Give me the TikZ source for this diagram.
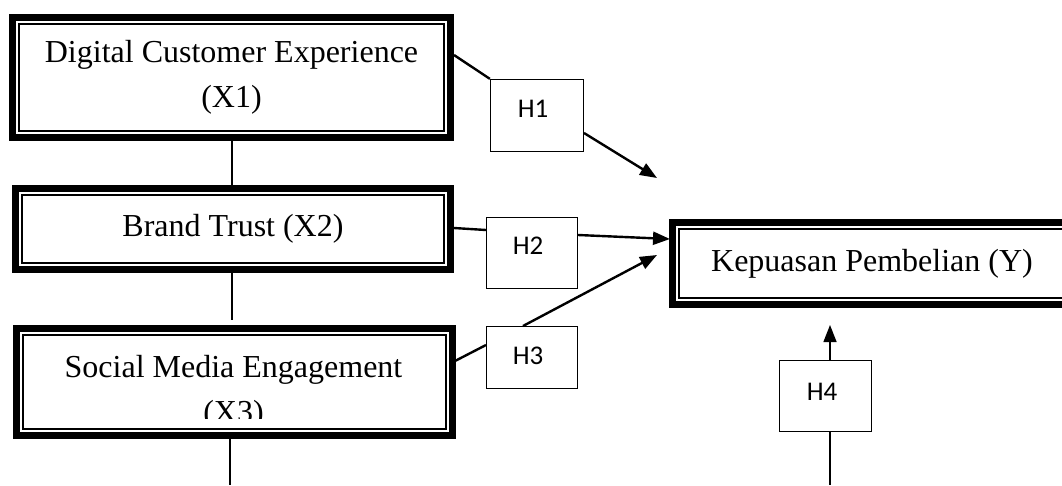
\documentclass[tikz,border=0pt]{standalone}
\usepackage{fontspec}
\setmainfont{Liberation Serif}
\newfontfamily\hfont{Carlito}
\usetikzlibrary{arrows.meta}
\begin{document}
\begin{tikzpicture}[x=1pt,y=-1pt,
  varbox/.style={draw, line width=7.4pt, rectangle, fill=white, inner sep=0pt,
    align=center, font=\fontsize{32}{45}\selectfont},
  innerbox/.style={draw, line width=1.6pt, rectangle, inner sep=0pt},
  hyp/.style={draw, line width=1.3pt, rectangle, fill=white, inner sep=0pt},
  hlab/.style={font=\hfont\fontsize{27}{30}\selectfont, inner sep=0pt},
  link/.style={line width=2.4pt},
  thinlink/.style={line width=1.4pt},
  tip/.style={-{Triangle[length=17pt,width=13pt]}}
]
\useasboundingbox (0,0) rectangle (1062,485);
\clip (0,0) rectangle (1062,485);

% connector end points
\coordinate (a1) at (454,55);
\coordinate (c1) at (584,133);
\coordinate (t1) at (657,178);
\coordinate (a2) at (454,228);
\coordinate (b2) at (486,230);
\coordinate (c2) at (578,235);
\coordinate (t2) at (670,239);
\coordinate (a3) at (455,361);
\coordinate (b3) at (486,345);
\coordinate (c3) at (523,326);
\coordinate (t3) at (657,255);
\coordinate (v1) at (232,141);
\coordinate (v2) at (232,185);
\coordinate (v3) at (232,273);
\coordinate (v4) at (232,320);
\coordinate (v5) at (230,428);
\coordinate (v6) at (230,485);
\coordinate (h4top) at (830,360);
\coordinate (t4) at (830,325);
\coordinate (h4bot) at (830,432);
\coordinate (e4) at (830,485);

% hypothesis boxes
\node[hyp, minimum width=93pt, minimum height=72pt] (h1) at (537,115.5) {};
\node[hyp, minimum width=91pt, minimum height=71pt] (h2) at (532,253) {};
\node[hyp, minimum width=91pt, minimum height=62pt] (h3) at (532,357.5) {};
\node[hyp, minimum width=92pt, minimum height=71pt] (h4) at (825.5,396) {};
\node[hlab] (l1) at (533,109) {H1};
\node[hlab] (l2) at (528,246) {H2};
\node[hlab] (l3) at (528,355.5) {H3};
\node[hlab] (l4) at (822,391.5) {H4};

% connectors
\draw[link] (a1) -- (h1.north west);
\draw[link,tip] (c1) -- (t1);
\draw[link] (a2) -- (b2);
\draw[link,tip] (c2) -- (t2);
\draw[link] (a3) -- (b3);
\draw[link,tip] (c3) -- (t3);
\draw[thinlink] (v1) -- (v2);
\draw[thinlink] (v3) -- (v4);
\draw[thinlink] (v5) -- (v6);
\draw[thinlink,tip] (h4top) -- (t4);
\draw[thinlink] (h4bot) -- (e4);

% variable boxes (thick outer frame + thin inner frame)
\node[varbox, minimum width=437.6pt, minimum height=119.6pt] (x1) at (231.5,77.5)
  {Digital Customer Experience\\(X1)};
\node[innerbox, minimum width=425pt, minimum height=107pt] (x1i) at (231.5,77.5) {};
\node[varbox, minimum width=434.6pt, minimum height=80.6pt] (x2) at (233,229)
  {Brand Trust (X2)};
\node[innerbox, minimum width=422pt, minimum height=68pt] (x2i) at (233,229) {};
\node[varbox, minimum width=435.6pt, minimum height=106.6pt] (x3) at (234.5,382) {};
\node[innerbox, minimum width=423pt, minimum height=94pt] (x3i) at (234.5,382) {};
\node[varbox, minimum width=398.6pt, minimum height=81.6pt] (y) at (872,263.5)
  {Kepuasan Pembelian (Y)};
\node[innerbox, minimum width=386pt, minimum height=69pt] (yi) at (872,263.5) {};
\begin{scope}
  \clip (0,0) rectangle (1062,418);
  \node[inner sep=0pt, align=center, anchor=north, font=\fontsize{32}{45}\selectfont] (x3t) at (233.5,355)
    {Social Media Engagement\\(X3)};
\end{scope}
\end{tikzpicture}
\end{document}
